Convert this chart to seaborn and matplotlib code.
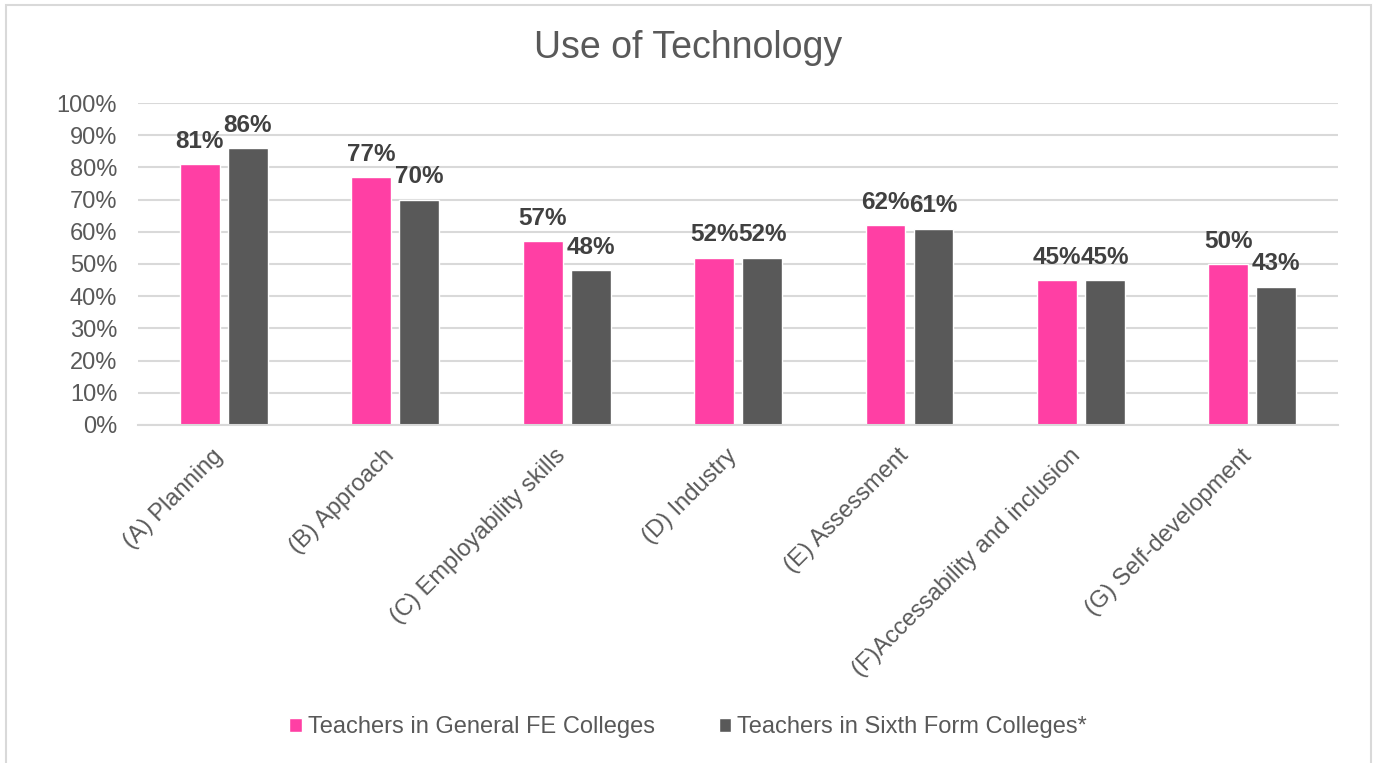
import matplotlib
matplotlib.use("Agg")
import matplotlib.pyplot as plt
from matplotlib.patches import Rectangle
from matplotlib.ticker import MultipleLocator, PercentFormatter
from matplotlib.transforms import ScaledTranslation
import pandas as pd
import seaborn as sns

categories = ["(A) Planning", "(B) Approach", "(C) Employability skills", "(D) Industry",
              "(E) Assessment", "(F)Accessability and inclusion", "(G) Self-development"]
series_names = ["Teachers in General FE Colleges", "Teachers in Sixth Form Colleges*"]
general_fe = [81, 77, 57, 52, 62, 45, 50]
sixth_form = [86, 70, 48, 52, 61, 45, 43]
colors = ["#FF3FA4", "#595959"]

df = pd.DataFrame({
    "category": categories * 2,
    "group": [series_names[0]] * len(categories) + [series_names[1]] * len(categories),
    "value": [v / 100 for v in general_fe + sixth_form],
})

sns.set_theme(style="white")
plt.rcParams["font.family"] = ["Liberation Sans", "DejaVu Sans"]

fig = plt.figure(figsize=(13.76, 7.63), dpi=100)
ax = fig.add_axes([0.1003, 0.443, 0.8721, 0.422])

sns.barplot(data=df, x="category", y="value", hue="group", order=categories,
            hue_order=series_names, palette=colors, width=0.56, gap=0.17,
            saturation=1, ax=ax, legend=True)

for cont, vals in zip(ax.containers, [general_fe, sixth_form]):
    ax.bar_label(cont, labels=[f"{v}%" for v in vals], padding=8,
                 fontsize=17.5, fontweight="bold", color="#404040")

ax.set_ylim(0, 1)
ax.set_xlim(-0.5, len(categories) - 0.5)
ax.yaxis.set_major_locator(MultipleLocator(0.1))
ax.yaxis.set_major_formatter(PercentFormatter(1.0, decimals=0))
ax.grid(axis="y", color="#D9D9D9", linewidth=1.5)
ax.set_axisbelow(True)
for side in ["top", "right", "left"]:
    ax.spines[side].set_visible(False)
ax.spines["bottom"].set_color("#D9D9D9")
ax.spines["bottom"].set_linewidth(1.5)
ax.tick_params(axis="both", length=0, labelsize=17, labelcolor="#595959")
ax.tick_params(axis="y", pad=15)
ax.set_xlabel("")
ax.set_ylabel("")
shift = ScaledTranslation(-0.12, -0.15, fig.dpi_scale_trans)
for lbl in ax.get_xticklabels():
    lbl.set_rotation(45)
    lbl.set_ha("right")
    lbl.set_va("top")
    lbl.set_rotation_mode("anchor")
    lbl.set_transform(lbl.get_transform() + shift)

handles, labels = ax.get_legend_handles_labels()
ax.get_legend().remove()
fig.legend(handles, labels, loc="center", bbox_to_anchor=(0.5, 0.047), ncol=2,
           frameon=False, fontsize=17, labelcolor="#595959",
           handlelength=0.55, handleheight=0.55, handletextpad=0.25, columnspacing=2.7)

fig.suptitle("Use of Technology", x=0.5, y=0.937, va="center", fontsize=27, color="#595959")

fig.patches.append(Rectangle((6 / 1376, -0.02), (1371 - 6) / 1376, 1.02 - 5 / 763,
                             transform=fig.transFigure, fill=False,
                             edgecolor="#D9D9D9", linewidth=1.5))

fig.savefig("out.png", dpi=100, facecolor="white")
